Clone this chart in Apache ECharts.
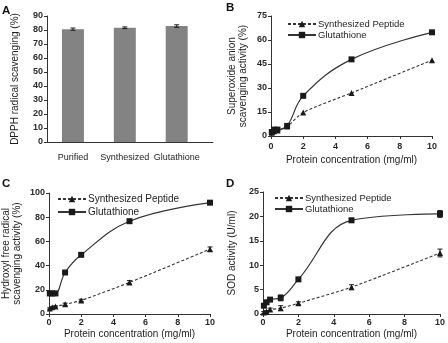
<!DOCTYPE html>
<html>
<head>
<meta charset="utf-8">
<script src="https://cdn.jsdelivr.net/npm/echarts@6/dist/echarts.min.js"></script>
<style>
  html, body { margin: 0; padding: 0; background: #fff; }
  #chart { width: 448px; height: 343px; }
</style>
</head>
<body>
<div id="chart"></div>
<script>
// Panel A: DPPH radical scavenging
const dpphCategories = ['Purified', 'Synthesized', 'Glutathione'];
const dpphValues = [80.6, 81.6, 82.8];
const dpphErrors = [0.8, 0.6, 0.9];

// Shared concentrations (mg/ml) for panels B-D
const concentrations = [0.05, 0.2, 0.4, 1, 2, 5, 10];

// Panel B: superoxide anion scavenging (%)
const superoxidePeptide = [2, 3, 3.5, 6, 14.7, 26.9, 47.4];
const superoxideGlutathione = [2.5, 4, 4, 6.3, 25.1, 47.9, 64.8];

// Panel C: hydroxyl free radical scavenging (%)
const hydroxylPeptide = [4.5, 5.5, 6.2, 8, 11.2, 26.1, 53.6];
const hydroxylPeptideErr = [0.6, 0.5, 0.5, 1, 1, 1.5, 1.8];
const hydroxylGlutathione = [17, 17, 17, 34.3, 48.9, 76.7, 92];
const hydroxylGlutathioneErr = [0.5, 0.5, 0.5, 0.8, 0.8, 1, 1];

// Panel D: SOD activity (U/ml)
const sodPeptide = [0.3, 0.5, 0.9, 1.2, 2.2, 5.5, 12.5];
const sodPeptideErr = [0.2, 0.2, 0.3, 0.5, 0.3, 0.5, 0.8];
const sodGlutathione = [1.7, 2.4, 2.95, 3.3, 7.1, 19.2, 20.5];
const sodGlutathioneErr = [0.3, 0.3, 0.3, 0.6, 0.3, 0.4, 0.7];

const seriesNames = ['Synthesized Peptide', 'Glutathione'];

const FONT = 'Arial, "Liberation Sans", sans-serif';
const AXIS_COLOR = '#333';
const LINE_COLOR = '#353535';
const MARK_COLOR = '#1a1a1a';

function pairs(xs, ys) { return xs.map((x, i) => [x, ys[i]]); }
function triples(xs, ys, es) { return xs.map((x, i) => [x, ys[i], es[i]]); }

function errorBars(idx, data) {
  return {
    type: 'custom', xAxisIndex: idx, yAxisIndex: idx, z: 4, silent: true,
    data: data,
    renderItem: function (params, api) {
      const x = api.value(0), y = api.value(1), e = api.value(2);
      const hi = api.coord([x, y + e]);
      const lo = api.coord([x, y - e]);
      const w = 2.5;
      const style = { stroke: MARK_COLOR, lineWidth: 1 };
      return {
        type: 'group',
        children: [
          { type: 'line', shape: { x1: hi[0], y1: hi[1], x2: lo[0], y2: lo[1] }, style },
          { type: 'line', shape: { x1: hi[0] - w, y1: hi[1], x2: hi[0] + w, y2: hi[1] }, style },
          { type: 'line', shape: { x1: lo[0] - w, y1: lo[1], x2: lo[0] + w, y2: lo[1] }, style }
        ]
      };
    }
  };
}

function valueAxisCommon() {
  return {
    type: 'value',
    axisLine: { show: true, lineStyle: { color: AXIS_COLOR, width: 1 } },
    axisTick: { show: true, length: 3, lineStyle: { color: AXIS_COLOR } },
    splitLine: { show: false },
    axisLabel: { color: '#2a2a2a', fontSize: 9, fontWeight: 'bold', fontFamily: FONT, margin: 4 },
    nameTextStyle: { color: '#1e1e1e', fontSize: 10, fontFamily: FONT, lineHeight: 11 }
  };
}

function concAxis(idx, labelMargin, nameGap) {
  const a = valueAxisCommon();
  return Object.assign(a, {
    gridIndex: idx, min: 0, max: 10, interval: 2,
    name: 'Protein concentration (mg/ml)', nameLocation: 'middle', nameGap: nameGap,
    axisLabel: Object.assign(a.axisLabel, { margin: labelMargin })
  });
}

function yAxis(idx, max, interval, name, nameGap) {
  const a = valueAxisCommon();
  return Object.assign(a, {
    gridIndex: idx, min: 0, max: max, interval: interval,
    name: name, nameLocation: 'middle', nameGap: nameGap
  });
}

function peptideSeries(idx, values) {
  return {
    name: seriesNames[0], type: 'line', xAxisIndex: idx, yAxisIndex: idx,
    data: pairs(concentrations, values), smooth: 0.25,
    symbol: 'triangle', symbolSize: 6,
    lineStyle: { color: LINE_COLOR, width: 1.1, type: [3, 2] },
    itemStyle: { color: MARK_COLOR }, z: 3
  };
}

function glutathioneSeries(idx, values) {
  return {
    name: seriesNames[1], type: 'line', xAxisIndex: idx, yAxisIndex: idx,
    data: pairs(concentrations, values), smooth: 0.4,
    symbol: 'rect', symbolSize: 6,
    lineStyle: { color: LINE_COLOR, width: 1.2, type: 'solid' },
    itemStyle: { color: MARK_COLOR }, z: 3
  };
}

function legendAt(left, top, gap, size) {
  return {
    data: seriesNames, orient: 'vertical', left: left, top: top, padding: 0,
    itemWidth: 28, itemHeight: 8, itemGap: gap, selectedMode: false,
    textStyle: { color: '#1e1e1e', fontSize: size, fontFamily: FONT, padding: [0, 0, 0, -3] }
  };
}

function panelLetter(text, x, y) {
  return {
    type: 'text', left: x, top: y,
    style: { text: text, fontSize: 11.5, fontWeight: 'bold', fontFamily: FONT, fill: '#111' }
  };
}

const barAxisX = {
  type: 'value', gridIndex: 0, min: 0, max: 3.2, interval: 0.5,
  axisLine: { show: true, lineStyle: { color: AXIS_COLOR } },
  axisTick: { show: false }, splitLine: { show: false },
  axisLabel: {
    color: '#1e1e1e', fontSize: 9, fontFamily: FONT, margin: 11, showMaxLabel: false,
    formatter: v => (Math.abs(v % 1 - 0.5) < 1e-6 ? dpphCategories[Math.floor(v)] : '')
  }
};

const option = {
  animation: false,
  backgroundColor: '#fff',
  grid: [
    { left: 47, top: 16, width: 166, height: 126 },
    { left: 271, top: 16, width: 161, height: 120 },
    { left: 47, top: 193, width: 163, height: 121 },
    { left: 263, top: 192, width: 177, height: 122 }
  ],
  xAxis: [
    barAxisX,
    concAxis(1, 6, 19),
    concAxis(2, 4, 15),
    concAxis(3, 4, 15)
  ],
  yAxis: [
    yAxis(0, 90, 10, 'DPPH radical scavenging (%)', 26),
    yAxis(1, 75, 15, 'Superoxide anion\nscavenging activity (%)', 22),
    yAxis(2, 100, 20, 'Hydroxyl free radical\nscavenging activity (%)', 26),
    yAxis(3, 25, 5, 'SOD activity (U/ml)', 25)
  ],
  legend: [
    legendAt(287, 19, 1, 9.5),
    legendAt(57, 194, 3, 10),
    legendAt(274, 193, 1, 9.5)
  ],
  graphic: [
    panelLetter('A', 2, 5),
    panelLetter('B', 226, 2),
    panelLetter('C', 2, 178),
    panelLetter('D', 226, 178)
  ],
  series: [
    {
      type: 'bar', xAxisIndex: 0, yAxisIndex: 0, barWidth: 22,
      data: dpphValues.map((v, i) => [i + 0.5, v]),
      itemStyle: { color: '#838383' }
    },
    errorBars(0, dpphValues.map((v, i) => [i + 0.5, v, dpphErrors[i]])),

    peptideSeries(1, superoxidePeptide),
    glutathioneSeries(1, superoxideGlutathione),

    peptideSeries(2, hydroxylPeptide),
    glutathioneSeries(2, hydroxylGlutathione),
    errorBars(2, triples(concentrations, hydroxylPeptide, hydroxylPeptideErr)),
    errorBars(2, triples(concentrations, hydroxylGlutathione, hydroxylGlutathioneErr)),

    peptideSeries(3, sodPeptide),
    glutathioneSeries(3, sodGlutathione),
    errorBars(3, triples(concentrations, sodPeptide, sodPeptideErr)),
    errorBars(3, triples(concentrations, sodGlutathione, sodGlutathioneErr))
  ]
};

const chart = echarts.init(document.getElementById('chart'), null, { renderer: 'canvas' });
chart.setOption(option);
</script>
</body>
</html>
